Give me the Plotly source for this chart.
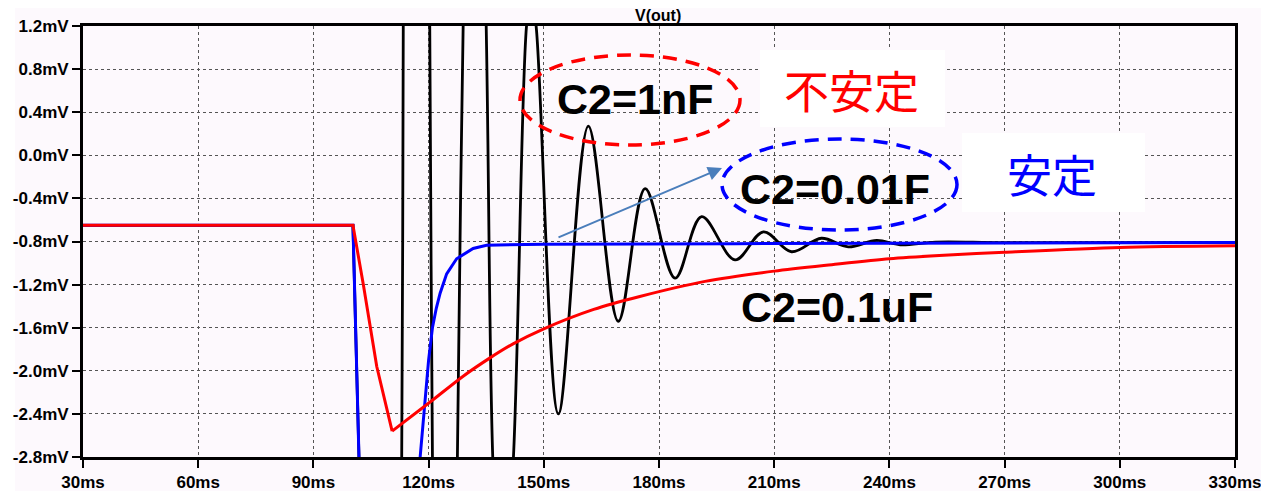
import plotly.graph_objects as go

# ---------------- data ----------------
x_ticks = [30, 60, 90, 120, 150, 180, 210, 240, 270, 300, 330]
x_tick_labels = ["30ms", "60ms", "90ms", "120ms", "150ms", "180ms", "210ms",
                 "240ms", "270ms", "300ms", "330ms"]
y_ticks = [-2.8, -2.4, -2.0, -1.6, -1.2, -0.8, -0.4, 0.0, 0.4, 0.8, 1.2]
y_tick_labels = ["-2.8mV", "-2.4mV", "-2.0mV", "-1.6mV", "-1.2mV", "-0.8mV",
                 "-0.4mV", "0.0mV", "0.4mV", "0.8mV", "1.2mV"]

# C2 = 0.1uF (red)
red_t = [30, 100.3, 103.0, 106.5, 110.5, 120.4, 129.0, 136.0, 142.0, 150.0,
         163.0, 175.0, 192.0, 210.0, 225.0, 240.0, 253.0, 270.0, 300.0, 330.0]
red_v = [-0.65, -0.65, -1.20, -1.96, -2.56, -2.29, -2.05, -1.88, -1.75, -1.61,
         -1.43, -1.31, -1.17, -1.075, -1.015, -0.96, -0.93, -0.90, -0.855, -0.84]
RED_SPLIT = 5  # sharp descent, then smooth recovery

# C2 = 0.01F (blue)
blue_t = [30, 100.3, 101.9, 102.6, 110.0, 117.2, 117.8, 119.0, 120.0, 121.0,
          122.0, 123.0, 124.7, 127.3, 131.6, 135.1, 150.0, 200.0, 330.0]
blue_v = [-0.65, -0.65, -2.85, -4.0, -6.0, -3.3, -2.8, -2.3, -1.9, -1.6,
          -1.42, -1.28, -1.10, -0.96, -0.865, -0.835, -0.825, -0.82, -0.81]

# C2 = 1nF (black)
black_t = [30, 100.3, 101.9, 102.6,
           107.0, 113.0, 113.4, 116.7, 120.3, 121.0, 124.0, 127.5, 129.0,
           132.0, 135.0, 136.7, 139.0, 142.1, 145.5, 146.7, 148.0, 153.8,
           161.6, 169.4, 176.4, 184.2, 191.1, 199.8, 207.2, 214.5, 222.3,
           229.3, 236.7, 242.8, 252.0, 270.0, 330.0]
black_v = [-0.65, -0.65, -2.85, -4.0,
           -20.0, -2.8, 1.2, 18.0, 1.2, -2.8, -12.0, -2.8, 1.2,
           6.0, 1.2, -2.8, -4.5, -2.8, 1.2, 1.5, 1.2, -2.40,
           0.27, -1.54, -0.31, -1.14, -0.57, -0.97, -0.71, -0.895, -0.77,
           -0.85, -0.79, -0.83, -0.805, -0.81, -0.81]
BLACK_SPLIT = 4  # first points: straight drop, rest: smooth ringing

# ---------------- figure ----------------
# the page body has an 8px margin; the figure starts at (8, 8) in the window
OFF = 8
W, H = 1269 - OFF, 491 - OFF
PL, PT, PR, PB = 83, 26, 1235, 457          # plot area in page pixels
L, T = PL - OFF, PT - OFF
R, B = W - (PR - OFF), H - (PB - OFF)

def px_x(px):
    return 30 + (px - PL) * 300.0 / (PR - PL)

def px_y(py):
    return 1.2 - (py - PT) * 4.0 / (PB - PT)

def paper_x(px):
    return (px - PL) / (PR - PL)

def paper_y(py):
    return (PB - py) / (PB - PT)

BG = "#fdf9fd"
fig = go.Figure()

fig.add_trace(go.Scatter(x=black_t[:BLACK_SPLIT], y=black_v[:BLACK_SPLIT],
                         mode="lines", line=dict(color="black", width=2.8),
                         hoverinfo="skip"))
fig.add_trace(go.Scatter(x=black_t[BLACK_SPLIT - 1:], y=black_v[BLACK_SPLIT - 1:],
                         mode="lines",
                         line=dict(color="black", width=2.8, shape="spline", smoothing=1.0),
                         hoverinfo="skip"))
fig.add_trace(go.Scatter(x=blue_t, y=blue_v, mode="lines",
                         line=dict(color="#0000ff", width=3), hoverinfo="skip"))
fig.add_trace(go.Scatter(x=red_t[:RED_SPLIT], y=red_v[:RED_SPLIT], mode="lines",
                         line=dict(color="#ff0000", width=3), hoverinfo="skip"))
fig.add_trace(go.Scatter(x=red_t[RED_SPLIT - 1:], y=red_v[RED_SPLIT - 1:], mode="lines",
                         line=dict(color="#ff0000", width=3, shape="spline", smoothing=0.8),
                         hoverinfo="skip"))

tickfont = dict(family="Liberation Sans, Arial, sans-serif", size=17,
                color="black", weight="bold")

axis_common = dict(showline=True, linewidth=3, linecolor="black", mirror=True,
                   ticks="outside", ticklen=8, tickwidth=2, tickcolor="black",
                   showgrid=True, gridcolor="#555555", gridwidth=1,
                   griddash="3px,3px", zeroline=False, tickfont=tickfont,
                   automargin=False)
fig.update_xaxes(range=[30, 330], tickvals=x_ticks, ticktext=x_tick_labels,
                 **axis_common)
fig.update_yaxes(range=[-2.8, 1.2], tickvals=y_ticks, ticktext=y_tick_labels,
                 **axis_common)

shapes = [
    # pinkish canvas area
    dict(type="rect", xref="paper", yref="paper", layer="below",
         x0=paper_x(15), x1=paper_x(1265), y0=paper_y(495), y1=paper_y(7),
         fillcolor=BG, line=dict(width=0)),
    # white label boxes
    dict(type="rect", xref="x", yref="y", layer="above",
         x0=px_x(760), x1=px_x(945), y0=px_y(127), y1=px_y(50),
         fillcolor="white", line=dict(width=0)),
    dict(type="rect", xref="x", yref="y", layer="above",
         x0=px_x(962), x1=px_x(1145), y0=px_y(212), y1=px_y(133),
         fillcolor="white", line=dict(width=0)),
    # dashed ellipses
    dict(type="circle", xref="x", yref="y", layer="above",
         x0=px_x(520), x1=px_x(740), y0=px_y(145), y1=px_y(55),
         line=dict(color="#ff0000", width=3.5, dash="14px,9px")),
    dict(type="circle", xref="x", yref="y", layer="above",
         x0=px_x(722), x1=px_x(957), y0=px_y(230), y1=px_y(139),
         line=dict(color="#0000ff", width=3.5, dash="14px,9px")),
]

bigfont = dict(family="Liberation Sans, Arial, sans-serif", size=43,
               color="black", weight="bold")
cjk = "Noto Sans CJK JP, Noto Sans CJK SC, sans-serif"
annotations = [
    dict(x=paper_x(658), y=paper_y(16), xref="paper", yref="paper",
         xanchor="center", yanchor="middle",
         text="V(out)", showarrow=False,
         font=dict(family="Liberation Sans, Arial, sans-serif", size=16,
                   color="black", weight="bold")),
    dict(x=px_x(635), y=px_y(99), xref="x", yref="y", text="C2=1nF",
         showarrow=False, font=bigfont),
    dict(x=px_x(851), y=px_y(89), xref="x", yref="y", text="不安定",
         showarrow=False, font=dict(family=cjk, size=45, color="#ff0000")),
    dict(x=px_x(835), y=px_y(189), xref="x", yref="y", text="C2=0.01F",
         showarrow=False, font=bigfont),
    dict(x=px_x(1052), y=px_y(173), xref="x", yref="y", text="安定",
         showarrow=False, font=dict(family=cjk, size=45, color="#0000ff")),
    dict(x=px_x(837), y=px_y(307), xref="x", yref="y", text="C2=0.1uF",
         showarrow=False, font=bigfont),
    # arrow
    dict(x=px_x(722), y=px_y(168), xref="x", yref="y",
         ax=px_x(557), ay=px_y(238), axref="x", ayref="y",
         text="", showarrow=True, arrowhead=2, arrowsize=1.4,
         arrowwidth=2, arrowcolor="#4a7ebb"),
]

fig.update_layout(width=W, height=H, margin=dict(l=L, r=R, t=T, b=B),
                  paper_bgcolor="white", plot_bgcolor=BG,
                  showlegend=False, shapes=shapes, annotations=annotations)

fig.write_html("out.html")
